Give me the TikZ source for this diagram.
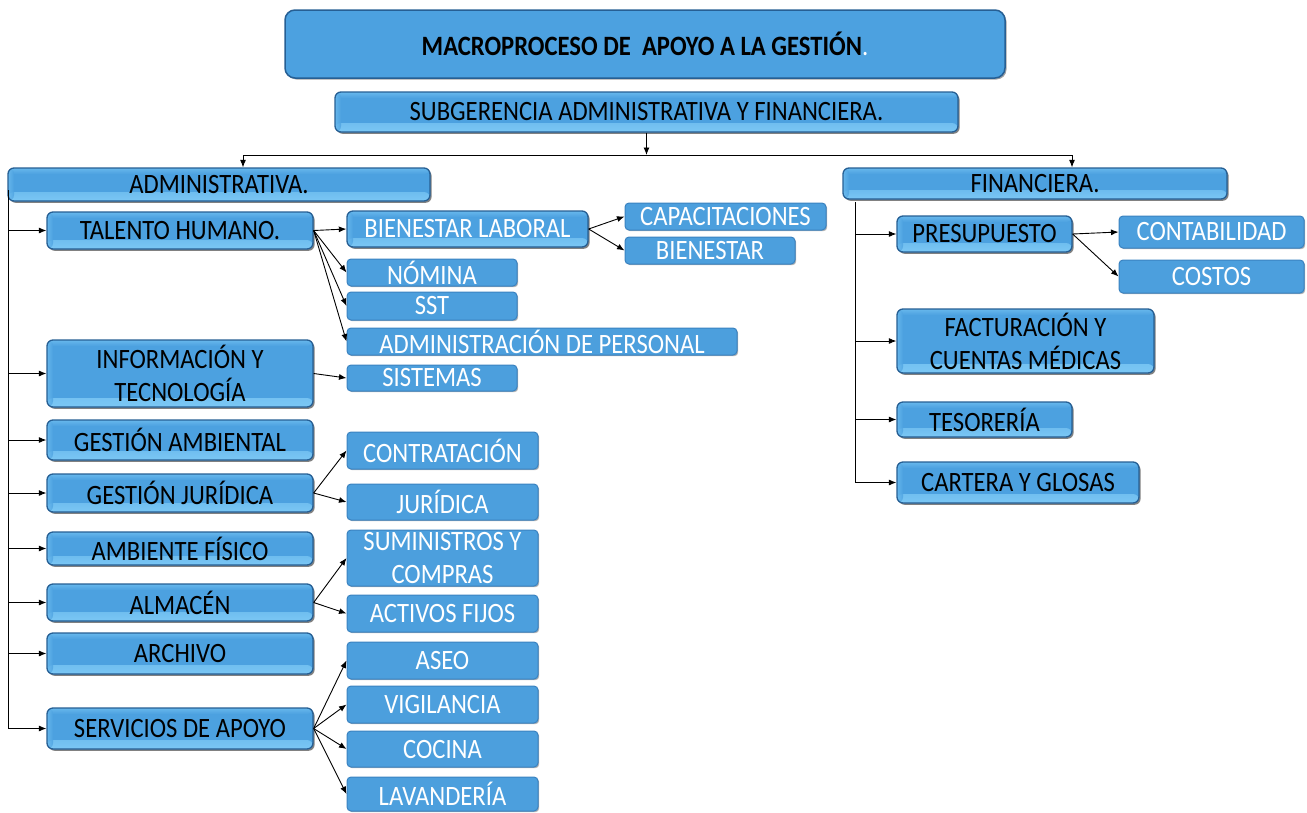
\documentclass[tikz,border=0pt]{standalone}
\usepackage{fontspec}
\setmainfont{Carlito}[FakeStretch=0.88]
\usetikzlibrary{arrows.meta,shadows}
\definecolor{cTop}{HTML}{6CBBEE}
\definecolor{cMid}{HTML}{4CA1E0}
\definecolor{cBot}{HTML}{7CC8F5}
\definecolor{cFlat}{HTML}{4C9FDD}
\definecolor{cBdr}{HTML}{265F94}
\definecolor{cBdrL}{HTML}{3A82C0}
\tikzset{
  bx/.style 2 args={minimum width=#1, minimum height=#2},
  base/.style={inner sep=0pt, align=center, font=\fontsize{28}{33}\selectfont},
  bevel/.style={base, rounded corners=6pt, draw=cBdr, line width=1.3pt, fill=cMid,
    path picture={
      \shade[top color=cMid, bottom color=cBot]
        ([yshift=-1pt]path picture bounding box.south west) rectangle ([yshift=9pt]path picture bounding box.south east);
      \shade[top color=cTop, bottom color=cMid]
        ([yshift=1pt]path picture bounding box.north west) rectangle ([yshift=-6pt]path picture bounding box.north east);
      \shade[left color=cTop, right color=cMid, opacity=0.8]
        (path picture bounding box.south west) rectangle ([xshift=6pt]path picture bounding box.north west);
    },
    drop shadow={shadow xshift=1.6pt, shadow yshift=-1.8pt, fill=black!70, opacity=0.7}},
  lone/.style={bevel, text=black},
  lonew/.style={bevel, text=white},
  ltwo/.style={base, rounded corners=4pt, draw=cBdrL, line width=1pt, fill=cFlat, text=white,
    drop shadow={shadow xshift=1.2pt, shadow yshift=-1.2pt, fill=black!50, opacity=0.6}},
  arr/.style={-{Latex[length=7.5pt,width=6pt]}, line width=0.9pt, black},
  ln/.style={line width=0.9pt, black}
}
\begin{document}
\begin{tikzpicture}[x=1pt,y=-1pt]
\path[use as bounding box] (0,0) rectangle (1307,812);

% top
\node[base, rounded corners=10pt, draw=cBdr, line width=1.5pt, fill=cMid, bx={720}{68},
  drop shadow={shadow xshift=1.5pt, shadow yshift=-1.5pt, fill=black!60, opacity=0.6}]
  (top) at (645,44) {{\bfseries MACROPROCESO DE~ APOYO A LA GESTIÓN}\textcolor{white}{.}};
\node[lone, bx={623}{40}] (sub) at (646.5,112) {SUBGERENCIA ADMINISTRATIVA Y FINANCIERA.};
\node[lone, bx={422}{33}] (adm) at (219,184.5) {ADMINISTRATIVA.};
\node[lone, bx={384}{31}] (fin) at (1035,183.5) {FINANCIERA.};

% left level 1
\node[lone, bx={266}{37}] (th)  at (180,230.5) {TALENTO HUMANO.};
\node[lone, bx={266}{67}] (it)  at (180,373.5) {INFORMACIÓN Y\\TECNOLOGÍA};
\node[lone, bx={266}{40}] (ga)  at (180,440)   {GESTIÓN AMBIENTAL};
\node[lone, bx={266}{38}] (gj)  at (180,493)   {GESTIÓN JURÍDICA};
\node[lone, bx={266}{33}] (af)  at (180,548.5) {AMBIENTE FÍSICO};
\node[lone, bx={266}{37}] (alm) at (180,602.5) {ALMACÉN};
\node[lone, bx={266}{41}] (arc) at (180,653.5) {ARCHIVO};
\node[lone, bx={266}{41}] (sa)  at (180,728.5) {SERVICIOS DE APOYO};

% left level 2
\node[lonew, bx={241}{36}] (bl) at (467.5,229) {BIENESTAR LABORAL};
\node[ltwo, bx={201}{27}] (cap) at (725.5,216.5) {CAPACITACIONES};
\node[ltwo, bx={170}{27}] (bie) at (710,250.5) {BIENESTAR};
\node[ltwo, bx={170}{27}] (nom) at (432,272.5) {NÓMINA};
\node[ltwo, bx={170}{28}] (sst) at (432,306) {SST};
\node[ltwo, bx={390}{27}] (adp) at (542,341.5) {ADMINISTRACIÓN DE PERSONAL};
\node[ltwo, bx={170}{26}] (sis) at (432,378) {SISTEMAS};
\node[ltwo, bx={191}{37}] (con) at (442.5,450.5) {CONTRATACIÓN};
\node[ltwo, bx={191}{36}] (jur) at (442.5,502) {JURÍDICA};
\node[ltwo, bx={191}{56}] (sum) at (442.5,558) {SUMINISTROS Y\\COMPRAS};
\node[ltwo, bx={191}{37}] (act) at (442.5,613.5) {ACTIVOS FIJOS};
\node[ltwo, bx={191}{37}] (ase) at (442.5,660.5) {ASEO};
\node[ltwo, bx={191}{37}] (vig) at (442.5,704.5) {VIGILANCIA};
\node[ltwo, bx={191}{36}] (coc) at (442.5,749) {COCINA};
\node[ltwo, bx={191}{34}] (lav) at (442.5,794) {LAVANDERÍA};

% right
\node[lone, bx={175}{36}] (pre) at (984.5,234) {PRESUPUESTO};
\node[ltwo, bx={185}{32}] (cont) at (1211.5,232) {CONTABILIDAD};
\node[ltwo, bx={185}{33}] (cos) at (1211.5,276.5) {COSTOS};
\node[lone, bx={257}{64}] (fac) at (1025.5,341) {FACTURACIÓN Y\\CUENTAS MÉDICAS};
\node[lone, bx={175}{35}] (tes) at (984.5,419.5) {TESORERÍA};
\node[lone, bx={242}{41}] (car) at (1018,482.5) {CARTERA Y GLOSAS};

% top connectors
\coordinate (hl) at (243,155);
\coordinate (hr) at (1072,155);
\draw[ln] (hl) -- (hr);
\draw[arr] (sub.south) -- (sub.south |- hl);
\draw[arr] (hl) -- (hl |- adm.north);
\draw[arr] (hr) -- (hr |- fin.north);

% left spine
\coordinate (ls) at (8,190);
\coordinate (le) at (8,729);
\draw[ln] (ls) -- (le);
\foreach \n in {th,it,ga,gj,af,alm,arc,sa}
  \draw[arr] (\n.west -| ls) -- (\n.west);

% right spine
\coordinate (rs) at (855,202);
\coordinate (re) at (855,482.5);
\draw[ln] (rs) -- (re);
\foreach \n in {pre,fac,tes,car}
  \draw[arr] (\n.west -| rs) -- (\n.west);

% branches
\foreach \n in {bl,nom,sst,adp} \draw[arr] (th.east) -- (\n.west);
\draw[arr] (bl.east) -- (cap.west);
\draw[arr] (bl.east) -- (bie.west);
\draw[arr] (it.east) -- (sis.west);
\draw[arr] (gj.east) -- (con.west);
\draw[arr] (gj.east) -- (jur.west);
\draw[arr] (alm.east) -- (sum.west);
\draw[arr] (alm.east) -- (act.west);
\foreach \n in {ase,vig,coc,lav} \draw[arr] (sa.east) -- (\n.west);
\draw[arr] (pre.east) -- (cont.west);
\draw[arr] (pre.east) -- (cos.west);
\end{tikzpicture}
\end{document}
